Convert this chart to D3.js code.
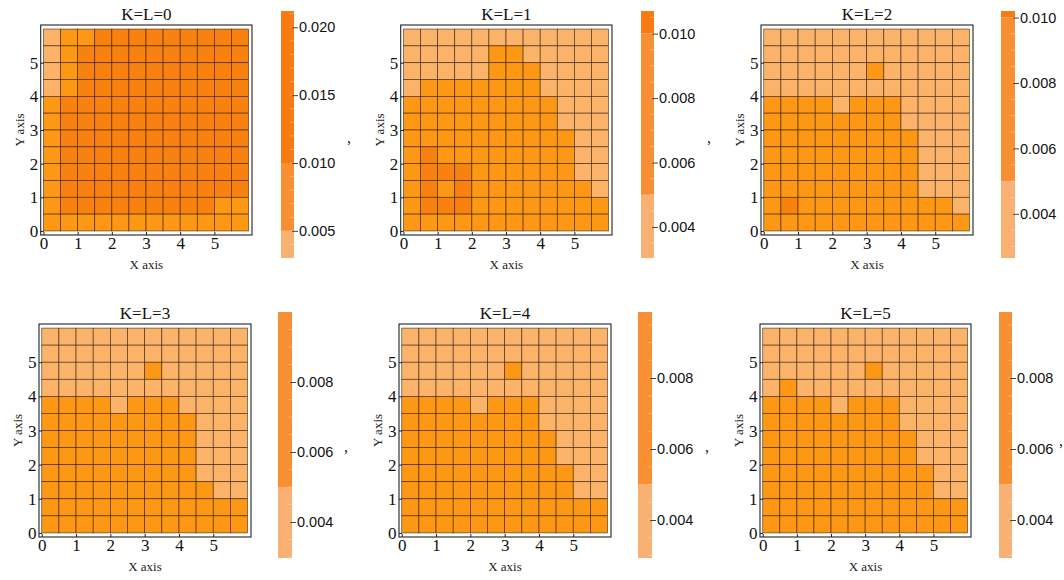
<!DOCTYPE html>
<html><head><meta charset="utf-8">
<script src="https://cdn.jsdelivr.net/npm/d3@7"></script>
<style>body{margin:0;background:#fff} svg{display:block}</style>
</head><body><svg id="c" width="1064" height="580"></svg>
<script>
// ---------------- data ----------------
const titles = ["K=L=0","K=L=1","K=L=2","K=L=3","K=L=4","K=L=5"];
const cellX = [0,0.5,1,1.5,2,2.5,3,3.5,4,4.5,5,5.5];      // left edge of each column
const cellY = [5.5,5,4.5,4,3.5,3,2.5,2,1.5,1,0.5,0];      // bottom edge of each row (top row first)
const cellSize = 0.5;
const axisTicks = [0,1,2,3,4,5];

// rows listed from top (y 5.5–6) to bottom (y 0–0.5)
const dataK0 = [
 [.0042,.0085,.0088,.0150,.0155,.0158,.0160,.0158,.0155,.0152,.0150,.0148],
 [.0042,.0086,.0150,.0158,.0162,.0165,.0166,.0165,.0162,.0158,.0155,.0150],
 [.0041,.0087,.0155,.0163,.0168,.0172,.0173,.0172,.0168,.0163,.0158,.0152],
 [.0040,.0088,.0158,.0166,.0172,.0176,.0178,.0176,.0172,.0166,.0160,.0154],
 [.0090,.0150,.0160,.0168,.0175,.0180,.0182,.0180,.0175,.0168,.0161,.0154],
 [.0091,.0152,.0162,.0170,.0178,.0183,.0186,.0183,.0178,.0170,.0162,.0155],
 [.0092,.0153,.0163,.0172,.0180,.0186,.0190,.0186,.0180,.0172,.0163,.0155],
 [.0092,.0153,.0164,.0173,.0182,.0190,.0195,.0190,.0182,.0173,.0163,.0154],
 [.0091,.0152,.0163,.0172,.0182,.0192,.0200,.0192,.0182,.0172,.0162,.0152],
 [.0090,.0150,.0161,.0170,.0180,.0190,.0205,.0190,.0180,.0170,.0160,.0150],
 [.0088,.0145,.0156,.0165,.0172,.0180,.0190,.0180,.0172,.0162,.0095,.0092],
 [.0080,.0085,.0088,.0090,.0092,.0094,.0095,.0094,.0092,.0090,.0088,.0085]
];
const dataK1 = [
 [.0040,.0041,.0042,.0043,.0044,.0045,.0045,.0044,.0043,.0042,.0041,.0040],
 [.0041,.0043,.0044,.0046,.0048,.0052,.0053,.0049,.0046,.0044,.0042,.0041],
 [.0042,.0045,.0046,.0047,.0049,.0055,.0057,.0054,.0048,.0045,.0043,.0041],
 [.0048,.0058,.0060,.0061,.0062,.0063,.0063,.0060,.0049,.0046,.0044,.0042],
 [.0060,.0068,.0069,.0070,.0070,.0071,.0070,.0068,.0056,.0048,.0045,.0043],
 [.0063,.0072,.0074,.0075,.0075,.0075,.0074,.0072,.0060,.0049,.0046,.0043],
 [.0065,.0080,.0080,.0079,.0078,.0078,.0077,.0075,.0068,.0055,.0048,.0044],
 [.0066,.0102,.0088,.0085,.0082,.0080,.0078,.0076,.0070,.0057,.0049,.0045],
 [.0067,.0104,.0101,.0103,.0085,.0081,.0078,.0076,.0071,.0058,.0049,.0046],
 [.0067,.0105,.0095,.0104,.0086,.0081,.0078,.0076,.0072,.0062,.0055,.0048],
 [.0066,.0106,.0103,.0102,.0086,.0081,.0078,.0075,.0071,.0063,.0058,.0052],
 [.0060,.0075,.0076,.0076,.0074,.0072,.0070,.0068,.0065,.0060,.0057,.0053]
];
const dataK2 = [
 [.0038,.0039,.0040,.0041,.0042,.0043,.0043,.0042,.0041,.0040,.0039,.0038],
 [.0040,.0041,.0042,.0043,.0044,.0045,.0046,.0045,.0043,.0042,.0040,.0039],
 [.0041,.0042,.0043,.0044,.0045,.0047,.0062,.0046,.0044,.0042,.0041,.0040],
 [.0043,.0044,.0045,.0046,.0047,.0048,.0049,.0048,.0046,.0044,.0042,.0041],
 [.0058,.0060,.0061,.0055,.0049,.0056,.0058,.0054,.0048,.0045,.0043,.0041],
 [.0066,.0068,.0069,.0068,.0066,.0065,.0064,.0060,.0049,.0046,.0044,.0042],
 [.0070,.0073,.0074,.0073,.0071,.0069,.0067,.0064,.0056,.0048,.0045,.0043],
 [.0072,.0076,.0077,.0076,.0074,.0071,.0069,.0066,.0058,.0049,.0046,.0043],
 [.0073,.0078,.0079,.0078,.0075,.0072,.0070,.0067,.0059,.0049,.0046,.0044],
 [.0074,.0080,.0081,.0079,.0076,.0073,.0071,.0068,.0060,.0049,.0047,.0045],
 [.0074,.0101,.0082,.0080,.0077,.0074,.0071,.0068,.0063,.0058,.0053,.0048],
 [.0070,.0076,.0077,.0076,.0073,.0071,.0069,.0066,.0062,.0058,.0055,.0052]
];
const dataK3 = [
 [.0036,.0037,.0038,.0039,.0040,.0041,.0041,.0040,.0039,.0038,.0037,.0036],
 [.0038,.0039,.0040,.0041,.0042,.0043,.0044,.0043,.0041,.0040,.0038,.0037],
 [.0040,.0041,.0042,.0043,.0044,.0046,.0056,.0045,.0043,.0041,.0040,.0038],
 [.0042,.0043,.0044,.0045,.0046,.0047,.0048,.0047,.0045,.0043,.0041,.0039],
 [.0056,.0058,.0058,.0053,.0048,.0054,.0056,.0052,.0047,.0044,.0042,.0040],
 [.0064,.0066,.0067,.0066,.0064,.0063,.0062,.0058,.0052,.0046,.0043,.0041],
 [.0068,.0071,.0072,.0071,.0069,.0067,.0065,.0062,.0055,.0047,.0044,.0042],
 [.0070,.0074,.0075,.0074,.0072,.0069,.0067,.0064,.0057,.0048,.0045,.0043],
 [.0071,.0076,.0077,.0076,.0073,.0070,.0068,.0065,.0058,.0049,.0046,.0043],
 [.0072,.0078,.0079,.0077,.0074,.0071,.0069,.0066,.0060,.0053,.0047,.0044],
 [.0072,.0080,.0080,.0078,.0075,.0072,.0069,.0066,.0061,.0057,.0053,.0051],
 [.0068,.0074,.0075,.0074,.0071,.0069,.0067,.0064,.0060,.0057,.0054,.0051]
];
const dataK4 = [
 [.0035,.0036,.0037,.0038,.0039,.0040,.0040,.0039,.0038,.0037,.0036,.0035],
 [.0037,.0038,.0039,.0040,.0041,.0042,.0043,.0042,.0040,.0039,.0037,.0036],
 [.0039,.0040,.0041,.0042,.0043,.0045,.0055,.0044,.0042,.0040,.0039,.0037],
 [.0041,.0042,.0043,.0044,.0045,.0046,.0047,.0046,.0044,.0042,.0040,.0038],
 [.0055,.0057,.0057,.0052,.0047,.0053,.0055,.0051,.0046,.0043,.0041,.0039],
 [.0063,.0065,.0066,.0065,.0063,.0062,.0061,.0056,.0048,.0045,.0042,.0040],
 [.0067,.0070,.0071,.0070,.0068,.0066,.0064,.0061,.0053,.0046,.0043,.0041],
 [.0069,.0073,.0074,.0073,.0071,.0068,.0066,.0063,.0055,.0047,.0044,.0042],
 [.0070,.0075,.0076,.0075,.0072,.0069,.0067,.0064,.0058,.0052,.0045,.0042],
 [.0071,.0077,.0078,.0076,.0073,.0070,.0068,.0065,.0059,.0053,.0046,.0043],
 [.0071,.0079,.0079,.0077,.0074,.0071,.0068,.0065,.0060,.0056,.0052,.0050],
 [.0067,.0073,.0074,.0073,.0070,.0068,.0066,.0063,.0059,.0056,.0053,.0050]
];
const dataK5 = [
 [.0035,.0036,.0037,.0038,.0039,.0040,.0040,.0039,.0038,.0037,.0036,.0035],
 [.0037,.0038,.0039,.0040,.0041,.0042,.0043,.0042,.0040,.0039,.0037,.0036],
 [.0039,.0040,.0041,.0042,.0043,.0045,.0056,.0044,.0042,.0040,.0039,.0037],
 [.0042,.0052,.0043,.0044,.0045,.0046,.0047,.0046,.0044,.0042,.0040,.0038],
 [.0055,.0058,.0057,.0052,.0047,.0053,.0055,.0051,.0046,.0043,.0041,.0039],
 [.0063,.0065,.0066,.0065,.0063,.0062,.0061,.0056,.0048,.0045,.0042,.0040],
 [.0067,.0070,.0071,.0070,.0068,.0066,.0064,.0061,.0053,.0046,.0043,.0041],
 [.0069,.0073,.0074,.0073,.0071,.0068,.0066,.0063,.0055,.0047,.0044,.0042],
 [.0070,.0075,.0076,.0075,.0072,.0069,.0067,.0064,.0058,.0052,.0045,.0042],
 [.0071,.0077,.0078,.0076,.0073,.0070,.0068,.0065,.0059,.0053,.0046,.0043],
 [.0071,.0079,.0079,.0077,.0074,.0071,.0068,.0065,.0060,.0056,.0052,.0050],
 [.0067,.0073,.0074,.0073,.0070,.0068,.0066,.0063,.0059,.0056,.0053,.0050]
];
const panelData = [dataK0, dataK1, dataK2, dataK3, dataK4, dataK5];

// colour-bar ranges and tick labels
const barMin = [0.0030, 0.00304, 0.00265, 0.00297, 0.00293, 0.00293];
const barMax = [0.0212, 0.0107, 0.0102, 0.0100, 0.00986, 0.00986];
const barTicks = [
  [0.005, 0.010, 0.015, 0.020],
  [0.004, 0.006, 0.008, 0.010],
  [0.004, 0.006, 0.008, 0.010],
  [0.004, 0.006, 0.008],
  [0.004, 0.006, 0.008],
  [0.004, 0.006, 0.008]
];
const barMinorStep = [0.001, 0.0005, 0.0005, 0.0005, 0.0005, 0.0005];
const bandBreaks = [0.005, 0.010];
const cellColors = ["#fbb36a", "#fc9814", "#f8810f"];
const barColors  = ["#f8b173", "#f98f33", "#f77b12"];

// ---------------- layout ----------------
const layout = [
  {fl:40.7, ft:25,  fr:252, fb:235, bx:281,  by:11,  bw:13, bh:247, comma:[347,143]},
  {fl:400.7,ft:25,  fr:612, fb:235, bx:641,  by:11,  bw:13, bh:247, comma:[707,143]},
  {fl:761,  ft:25,  fr:973, fb:235, bx:1001, by:11,  bw:14, bh:247, comma:null},
  {fl:39,   ft:324, fr:251, fb:537, bx:278,  by:312, bw:14, bh:246, comma:[344,452]},
  {fl:399,  ft:324, fr:611, fb:537, bx:638,  by:312, bw:14, bh:246, comma:[705,452]},
  {fl:760,  ft:324, fr:971, fb:537, bx:999,  by:312, bw:13, bh:246, comma:[1059,446]}
];

const svg = d3.select("#c");
svg.append("rect").attr("width",1064).attr("height",580).attr("fill","#fff");

const cellColor = d3.scaleThreshold().domain(bandBreaks).range(cellColors);
const barColor  = d3.scaleThreshold().domain(bandBreaks).range(barColors);
const serif = "'Liberation Serif','Times New Roman',serif";
const sans  = "'Liberation Sans',Arial,sans-serif";

layout.forEach((L, p) => {
  const g = svg.append("g");
  const x = d3.scaleLinear().domain([-0.08, 6.1]).range([L.fl, L.fr]);
  const y = d3.scaleLinear().domain([-0.12, 6.12]).range([L.fb, L.ft]);
  const data = panelData[p];

  // cells
  const cells = [];
  data.forEach((row, r) => row.forEach((v, c) => cells.push({x: cellX[c], y: cellY[r], v})));
  g.selectAll("rect.cell").data(cells).enter().append("rect")
    .attr("class","cell")
    .attr("x", d => x(d.x))
    .attr("y", d => y(d.y + cellSize))
    .attr("width", d => x(d.x + cellSize) - x(d.x))
    .attr("height", d => y(d.y) - y(d.y + cellSize))
    .attr("fill", d => cellColor(d.v))
    .attr("stroke", "#2a1604").attr("stroke-opacity", 0.75).attr("stroke-width", 0.7);

  // frame
  g.append("rect").attr("x", L.fl).attr("y", L.ft)
    .attr("width", L.fr - L.fl).attr("height", L.fb - L.ft)
    .attr("fill","none").attr("stroke","#222").attr("stroke-width",1.1);

  // axes
  const ax = g.append("g").attr("transform", `translate(0,${L.fb})`)
    .call(d3.axisBottom(x).tickValues(axisTicks).tickSize(-3).tickPadding(4).tickFormat(d3.format("d")));
  ax.select(".domain").remove();
  ax.selectAll("line").attr("stroke","#222");
  ax.selectAll("text").attr("font-family", serif).attr("font-size", 17).attr("fill","#111")
    .attr("y", 14).attr("dy", 0);

  const ay = g.append("g").attr("transform", `translate(${L.fl},0)`)
    .call(d3.axisLeft(y).tickValues(axisTicks).tickSize(-3).tickPadding(3).tickFormat(d3.format("d")));
  ay.select(".domain").remove();
  ay.selectAll("line").attr("stroke","#222");
  ay.selectAll("text").attr("font-family", serif).attr("font-size", 17).attr("fill","#111")
    .attr("x", -2.5).attr("dy", "0.33em");

  // title & labels
  const cx = (L.fl + L.fr) / 2, cy = (L.ft + L.fb) / 2;
  g.append("text").attr("x", cx).attr("y", L.ft - 5).attr("text-anchor","middle")
    .attr("font-family", serif).attr("font-size", 17).attr("fill","#111").text(titles[p]);
  g.append("text").attr("x", cx).attr("y", L.fb + 34).attr("text-anchor","middle")
    .attr("font-family", serif).attr("font-size", 13).attr("fill","#222").text("X axis");
  g.append("text").attr("transform", `translate(${L.fl - 17},${cy}) rotate(-90)`)
    .attr("text-anchor","middle").attr("font-family", serif).attr("font-size", 13)
    .attr("fill","#222").text("Y axis");

  // colour bar
  const cb = d3.scaleLinear().domain([barMin[p], barMax[p]]).range([L.by + L.bh, L.by]);
  const edges = [barMin[p], ...bandBreaks.filter(b => b > barMin[p] && b < barMax[p]), barMax[p]];
  const bands = d3.pairs(edges);
  g.selectAll("rect.band").data(bands).enter().append("rect")
    .attr("class","band")
    .attr("x", L.bx).attr("width", L.bw)
    .attr("y", d => cb(d[1])).attr("height", d => cb(d[0]) - cb(d[1]))
    .attr("fill", d => barColor((d[0] + d[1]) / 2));

  // minor ticks inside bar
  const minor = [];
  const st = barMinorStep[p];
  for (let k = Math.ceil(barMin[p] / st); k * st < barMax[p]; k++) minor.push(k * st);
  g.selectAll("line.minor").data(minor).enter().append("line")
    .attr("x1", L.bx + L.bw - 4).attr("x2", L.bx + L.bw)
    .attr("y1", d => cb(d)).attr("y2", d => cb(d))
    .attr("stroke","#fff").attr("stroke-opacity",0.35).attr("stroke-width",0.8);

  const cax = g.append("g").attr("transform", `translate(${L.bx + L.bw},0)`)
    .call(d3.axisRight(cb).tickValues(barTicks[p]).tickSize(4).tickPadding(1).tickFormat(d3.format(".3f")));
  cax.select(".domain").remove();
  cax.selectAll("line").attr("stroke","#444").attr("x1",-2);
  cax.selectAll("text").attr("font-family", sans).attr("font-size", 14.5).attr("fill","#111");

  if (L.comma) {
    g.append("text").attr("x", L.comma[0]).attr("y", L.comma[1])
      .attr("font-family", serif).attr("font-size", 16).attr("fill","#222").text(",");
  }
});
</script></body></html>
